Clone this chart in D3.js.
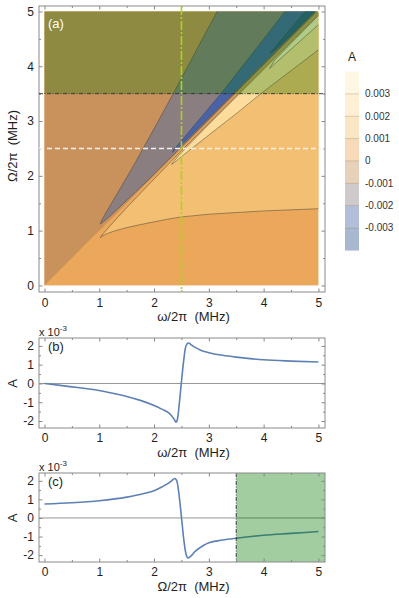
<!doctype html>
<html>
<head>
<meta charset="utf-8">
<title>Contour and cuts</title>
<script src="https://cdn.jsdelivr.net/npm/d3@7"></script>
<style>
  body { margin: 0; background: white; }
  svg { display: block; }
  text { font-family: "Liberation Sans", Arial, sans-serif; white-space: pre; }
</style>
</head>
<body>
<svg id="chart" width="399" height="598"></svg>
<script>
// ---- data ----
// contour bands, low -> high
var bandLevels = [-0.003, -0.002, -0.001, 0, 0.001, 0.002, 0.003];
var bandColors = ['#30588d', '#4a63a6', '#8b7e80', '#c9925d', '#eba85a', '#f3c073', '#fedc9b', '#fdecbf'];
var legendLabels = ['0.003', '0.002', '0.001', '0', '-0.001', '-0.002', '-0.003'];

// contour regions in (omega, Omega) MHz; each wedge = outer arm + inner arm from the tip
var tanRegion = [[0, 0], [5, 5], [0, 5]];
var lightOrangeOuter = [[1.02, 0.87], [1.06, 0.905], [1.15, 0.95], [1.3, 1.0], [1.5, 1.055], [1.75, 1.11], [2.0, 1.16], [2.25, 1.21], [2.5, 1.25], [3.0, 1.30], [3.5, 1.33], [4.0, 1.36], [4.5, 1.38], [5.0, 1.40]];
var lightOrangeInner = [[1.02, 0.87], [1.06, 0.93], [1.2, 1.09], [1.5, 1.42], [1.93, 1.87], [2.5, 2.46], [3, 2.965], [4, 3.97], [5, 4.97]];
var yellowOuter = [[2.32, 2.21], [2.36, 2.235], [2.5, 2.35], [3.0, 2.745], [3.5, 3.135], [3.95, 3.5], [4.5, 3.92], [5.0, 4.3]];
var yellowInner = [[2.32, 2.21], [2.36, 2.26], [2.45, 2.37], [2.6, 2.53], [3.0, 2.94], [3.56, 3.5], [4.5, 4.44], [5.0, 4.94]];
var paleOuter = [[4.11, 3.96], [4.5, 4.31], [5.0, 4.76]];
var paleInner = [[4.11, 3.96], [4.2, 4.11], [4.5, 4.42], [5.0, 4.925]];
var grayOuter = [[1.02, 1.12], [1.04, 1.18], [1.1, 1.29], [1.2, 1.46], [1.4, 1.8], [1.6, 2.14], [1.8, 2.5], [2.0, 2.86], [2.35, 3.5], [2.75, 4.25], [3.15, 5]];
var grayInner = [[1.02, 1.12], [1.06, 1.15], [1.2, 1.27], [1.5, 1.55], [1.93, 1.96], [2.5, 2.53], [3, 3.03], [4, 4.03], [4.97, 5]];
var blueOuter = [[2.33, 2.43], [2.35, 2.47], [2.5, 2.64], [2.8, 3.0], [3.22, 3.5], [3.8, 4.24], [4.39, 5]];
var blueInner = [[2.33, 2.43], [2.36, 2.46], [2.45, 2.52], [2.6, 2.665], [3, 3.06], [3.44, 3.5], [4, 4.06], [4.94, 5]];
var darkOuter = [[4.12, 4.24], [4.4, 4.575], [4.76, 5]];
var darkInner = [[4.12, 4.24], [4.2, 4.3], [4.5, 4.58], [4.92, 5]];

// cut (b): A (x1e-3) vs omega at Omega = 2.5
var omegaB = [0, 0.25, 0.5, 0.75, 1.0, 1.25, 1.5, 1.75, 2.0, 2.15, 2.25, 2.32, 2.37, 2.40, 2.43, 2.46, 2.5, 2.54, 2.57, 2.6, 2.63, 2.68, 2.75, 2.85, 3.0, 3.25, 3.5, 3.75, 4.0, 4.5, 5.0];
var aB = [0, -0.09, -0.18, -0.27, -0.37, -0.52, -0.69, -0.9, -1.17, -1.38, -1.53, -1.72, -1.92, -2.06, -1.85, -1.1, 0.1, 1.2, 1.85, 2.1, 2.15, 2.05, 1.92, 1.77, 1.64, 1.5, 1.40, 1.32, 1.26, 1.19, 1.14];

// cut (c): A (x1e-3) vs Omega at omega = 2.5
var omegaC = [0, 0.5, 1.0, 1.5, 1.8, 2.0, 2.15, 2.25, 2.32, 2.38, 2.42, 2.46, 2.5, 2.54, 2.58, 2.62, 2.66, 2.75, 2.9, 3.0, 3.25, 3.5, 4.0, 4.5, 5.0];
var aC = [0.75, 0.82, 0.93, 1.12, 1.3, 1.47, 1.68, 1.85, 2.0, 2.12, 1.95, 1.15, 0.05, -1.1, -1.9, -2.15, -2.08, -1.8, -1.48, -1.33, -1.19, -1.09, -0.93, -0.83, -0.73];

var xTicks = [0, 1, 2, 3, 4, 5];
var yTicksA = [0, 1, 2, 3, 4, 5];
var yTicksBC = [-2, -1, 0, 1, 2];
var cutOmega = 2.5, cutOmegaBig = 2.5, greenFrom = 3.5;

// ---- layout ----
var svg = d3.select('#chart');
var L = 39, R = 325;
var x = d3.scaleLinear().domain([-0.1, 5.12]).range([L, R]);
var yA = d3.scaleLinear().domain([-0.12, 5.1]).range([292, 6]);
var yB = d3.scaleLinear().domain([-2.37, 2.42]).range([428, 338]);
var yC = d3.scaleLinear().domain([-2.37, 2.42]).range([562, 473]);

var lineA = d3.line().x(function (d) { return x(d[0]); }).y(function (d) { return yA(d[1]); });
function bandColor(lo) { return bandColors[lo]; }

function hyphen(d) { return String(d).replace('\u2212', '-'); }

function frame(g, y, yTicks, xMinor, yMinor, padB) {
  var top = y.range()[1], bottom = y.range()[0];
  function style(sel) {
    sel.select('.domain').remove();
    sel.selectAll('.tick line').attr('stroke', '#888');
    sel.selectAll('.tick text').attr('fill', '#1e1e1e').style('font-size', '12px')
      .style('font-family', '"Liberation Sans", Arial, sans-serif');
  }
  g.append('g').attr('transform', 'translate(0,' + bottom + ')')
    .call(d3.axisBottom(x).tickValues(xTicks).tickSize(-3.5).tickPadding(padB).tickFormat(hyphen)).call(style);
  g.append('g').attr('transform', 'translate(0,' + bottom + ')')
    .call(d3.axisBottom(x).tickValues(xMinor).tickSize(-2).tickFormat('')).call(style);
  g.append('g').attr('transform', 'translate(0,' + top + ')')
    .call(d3.axisTop(x).tickValues(xTicks).tickSize(-3.5).tickFormat('')).call(style);
  g.append('g').attr('transform', 'translate(0,' + top + ')')
    .call(d3.axisTop(x).tickValues(xMinor).tickSize(-2).tickFormat('')).call(style);
  g.append('g').attr('transform', 'translate(' + L + ',0)')
    .call(d3.axisLeft(y).tickValues(yTicks).tickSize(-3.5).tickPadding(5).tickFormat(hyphen)).call(style);
  g.append('g').attr('transform', 'translate(' + L + ',0)')
    .call(d3.axisLeft(y).tickValues(yMinor).tickSize(-2).tickFormat('')).call(style);
  g.append('g').attr('transform', 'translate(' + R + ',0)')
    .call(d3.axisRight(y).tickValues(yTicks).tickSize(-3.5).tickFormat('')).call(style);
  g.append('g').attr('transform', 'translate(' + R + ',0)')
    .call(d3.axisRight(y).tickValues(yMinor).tickSize(-2).tickFormat('')).call(style);
  g.append('rect').attr('x', L).attr('y', top).attr('width', R - L).attr('height', bottom - top)
    .attr('fill', 'none').attr('stroke', '#8a8a8a').attr('stroke-width', 1);
}

function label(t, px, py, size, opts) {
  opts = opts || {};
  var el = svg.append('text').attr('x', px).attr('y', py)
    .attr('dominant-baseline', 'central')
    .attr('text-anchor', opts.anchor || 'middle')
    .attr('fill', opts.fill || '#1e1e1e')
    .style('font-size', size + 'px')
    .text(t);
  if (opts.rotate) el.attr('transform', 'rotate(-90,' + px + ',' + py + ')');
  return el;
}

var halfSteps = d3.range(0.5, 5, 1);

// ---- panel (a) ----
var ga = svg.append('g');
ga.append('rect').attr('x', x(0)).attr('y', yA(5)).attr('width', x(5) - x(0)).attr('height', yA(0) - yA(5))
  .attr('fill', bandColor(4));
ga.append('path').attr('d', lineA(tanRegion) + 'Z').attr('fill', bandColor(3));

var wedges = [
  { outer: lightOrangeOuter, inner: lightOrangeInner, band: 5 },
  { outer: yellowOuter, inner: yellowInner, band: 6 },
  { outer: paleOuter, inner: paleInner, band: 7 },
  { outer: grayOuter, inner: grayInner, band: 2 },
  { outer: blueOuter, inner: blueInner, band: 1 },
  { outer: darkOuter, inner: darkInner, band: 0 }
];
wedges.forEach(function (w) {
  ga.append('path').attr('d', lineA(w.outer.concat(w.inner.slice().reverse())) + 'Z')
    .attr('fill', bandColor(w.band));
});
wedges.forEach(function (w) {
  ga.append('path').attr('d', lineA(w.inner.slice().reverse().concat(w.outer.slice(1))))
    .attr('fill', 'none').attr('stroke', '#3c3c3c').attr('stroke-opacity', 0.6).attr('stroke-width', 0.8);
});
// green shading above Omega = 3.5
ga.append('rect').attr('x', x(0)).attr('y', yA(5)).attr('width', x(5) - x(0)).attr('height', yA(greenFrom) - yA(5))
  .attr('fill', 'rgb(0,120,0)').attr('fill-opacity', 0.29);

frame(ga, yA, yTicksA, halfSteps, halfSteps, 6);

ga.append('line').attr('x1', L).attr('x2', R).attr('y1', yA(greenFrom)).attr('y2', yA(greenFrom))
  .attr('stroke', '#2a2a2a').attr('stroke-width', 0.9).attr('stroke-dasharray', '4,1.5,1,1.5');
ga.append('line').attr('x1', L).attr('x2', R).attr('y1', yA(cutOmegaBig)).attr('y2', yA(cutOmegaBig))
  .attr('stroke', '#f2f2f2').attr('stroke-width', 1.4).attr('stroke-dasharray', '5,3');
ga.append('line').attr('x1', x(cutOmega)).attr('x2', x(cutOmega)).attr('y1', yA.range()[1]).attr('y2', yA.range()[0])
  .attr('stroke', '#a8d41c').attr('stroke-width', 1.6).attr('stroke-dasharray', '9,2,2,2');

label('(a)', 48, 23, 13, { anchor: 'start', fill: '#fff' });
label('\u03c9/2\u03c0  (MHz)', 193.5, 316, 13);
label('\u03a9/2\u03c0  (MHz)', 12.5, 146, 13, { rotate: true });

// legend
var lg = svg.append('g');
var barTop = 71.5, barH = 22.35, barX = 345, barW = 14;
label('A', 352, 57, 12);
var legendBands = bandColors.slice().reverse();
lg.selectAll('rect.band').data(legendBands).enter().append('rect')
  .attr('x', barX).attr('y', function (d, i) { return barTop + i * barH; })
  .attr('width', barW).attr('height', barH + 0.3)
  .attr('fill', function (d) { return d; }).attr('fill-opacity', 0.42);
lg.selectAll('line.sep').data(legendLabels).enter().append('line')
  .attr('x1', barX).attr('x2', barX + barW)
  .attr('y1', function (d, i) { return barTop + (i + 1) * barH; })
  .attr('y2', function (d, i) { return barTop + (i + 1) * barH; })
  .attr('stroke', '#b8a88e').attr('stroke-opacity', 0.6).attr('stroke-width', 0.8);
lg.selectAll('text.lab').data(legendLabels).enter().append('text')
  .attr('x', 365).attr('y', function (d, i) { return barTop + (i + 1) * barH; })
  .attr('dominant-baseline', 'central').attr('fill', '#333').style('font-size', '10px')
  .text(function (d) { return d; });

// ---- cut panels ----
function cutPanel(y, xs, ys, tag, xText, green) {
  var g = svg.append('g');
  var top = y.range()[1], bottom = y.range()[0];
  g.append('line').attr('x1', L).attr('x2', R).attr('y1', y(0)).attr('y2', y(0))
    .attr('stroke', '#8a8a8a').attr('stroke-width', 0.9);
  var pts = xs.map(function (v, i) { return [v, ys[i]]; });
  g.append('path').datum(pts)
    .attr('d', d3.line().x(function (d) { return x(d[0]); }).y(function (d) { return y(d[1]); }).curve(d3.curveMonotoneX))
    .attr('fill', 'none').attr('stroke', '#5e81b5').attr('stroke-width', 1.6);
  if (green) {
    g.append('rect').attr('x', x(greenFrom)).attr('y', top).attr('width', R - x(greenFrom)).attr('height', bottom - top)
      .attr('fill', 'rgb(0,120,0)').attr('fill-opacity', 0.37);
    g.append('line').attr('x1', x(greenFrom)).attr('x2', x(greenFrom)).attr('y1', top).attr('y2', bottom)
      .attr('stroke', '#2a2a2a').attr('stroke-width', 0.9).attr('stroke-dasharray', '4,1.5,1,1.5');
  }
  frame(g, y, yTicksBC, halfSteps, d3.range(-2, 2.5, 0.5).filter(function (v) { return v % 1 !== 0; }), 5);
  var ex = svg.append('text').attr('x', 39).attr('y', top - 6).attr('dominant-baseline', 'central')
    .attr('fill', '#1e1e1e').style('font-size', '11px').text('x 10');
  ex.append('tspan').attr('dy', -4).style('font-size', '8px').text('-3');
  label(tag, 48, top + 8, 13, { anchor: 'start' });
  label('A', 13, y(0), 13, { rotate: true });
  label(xText, 193.5, bottom + 24, 13);
}
cutPanel(yB, omegaB, aB, '(b)', '\u03c9/2\u03c0  (MHz)', false);
cutPanel(yC, omegaC, aC, '(c)', '\u03a9/2\u03c0  (MHz)', true);
</script>
</body>
</html>
